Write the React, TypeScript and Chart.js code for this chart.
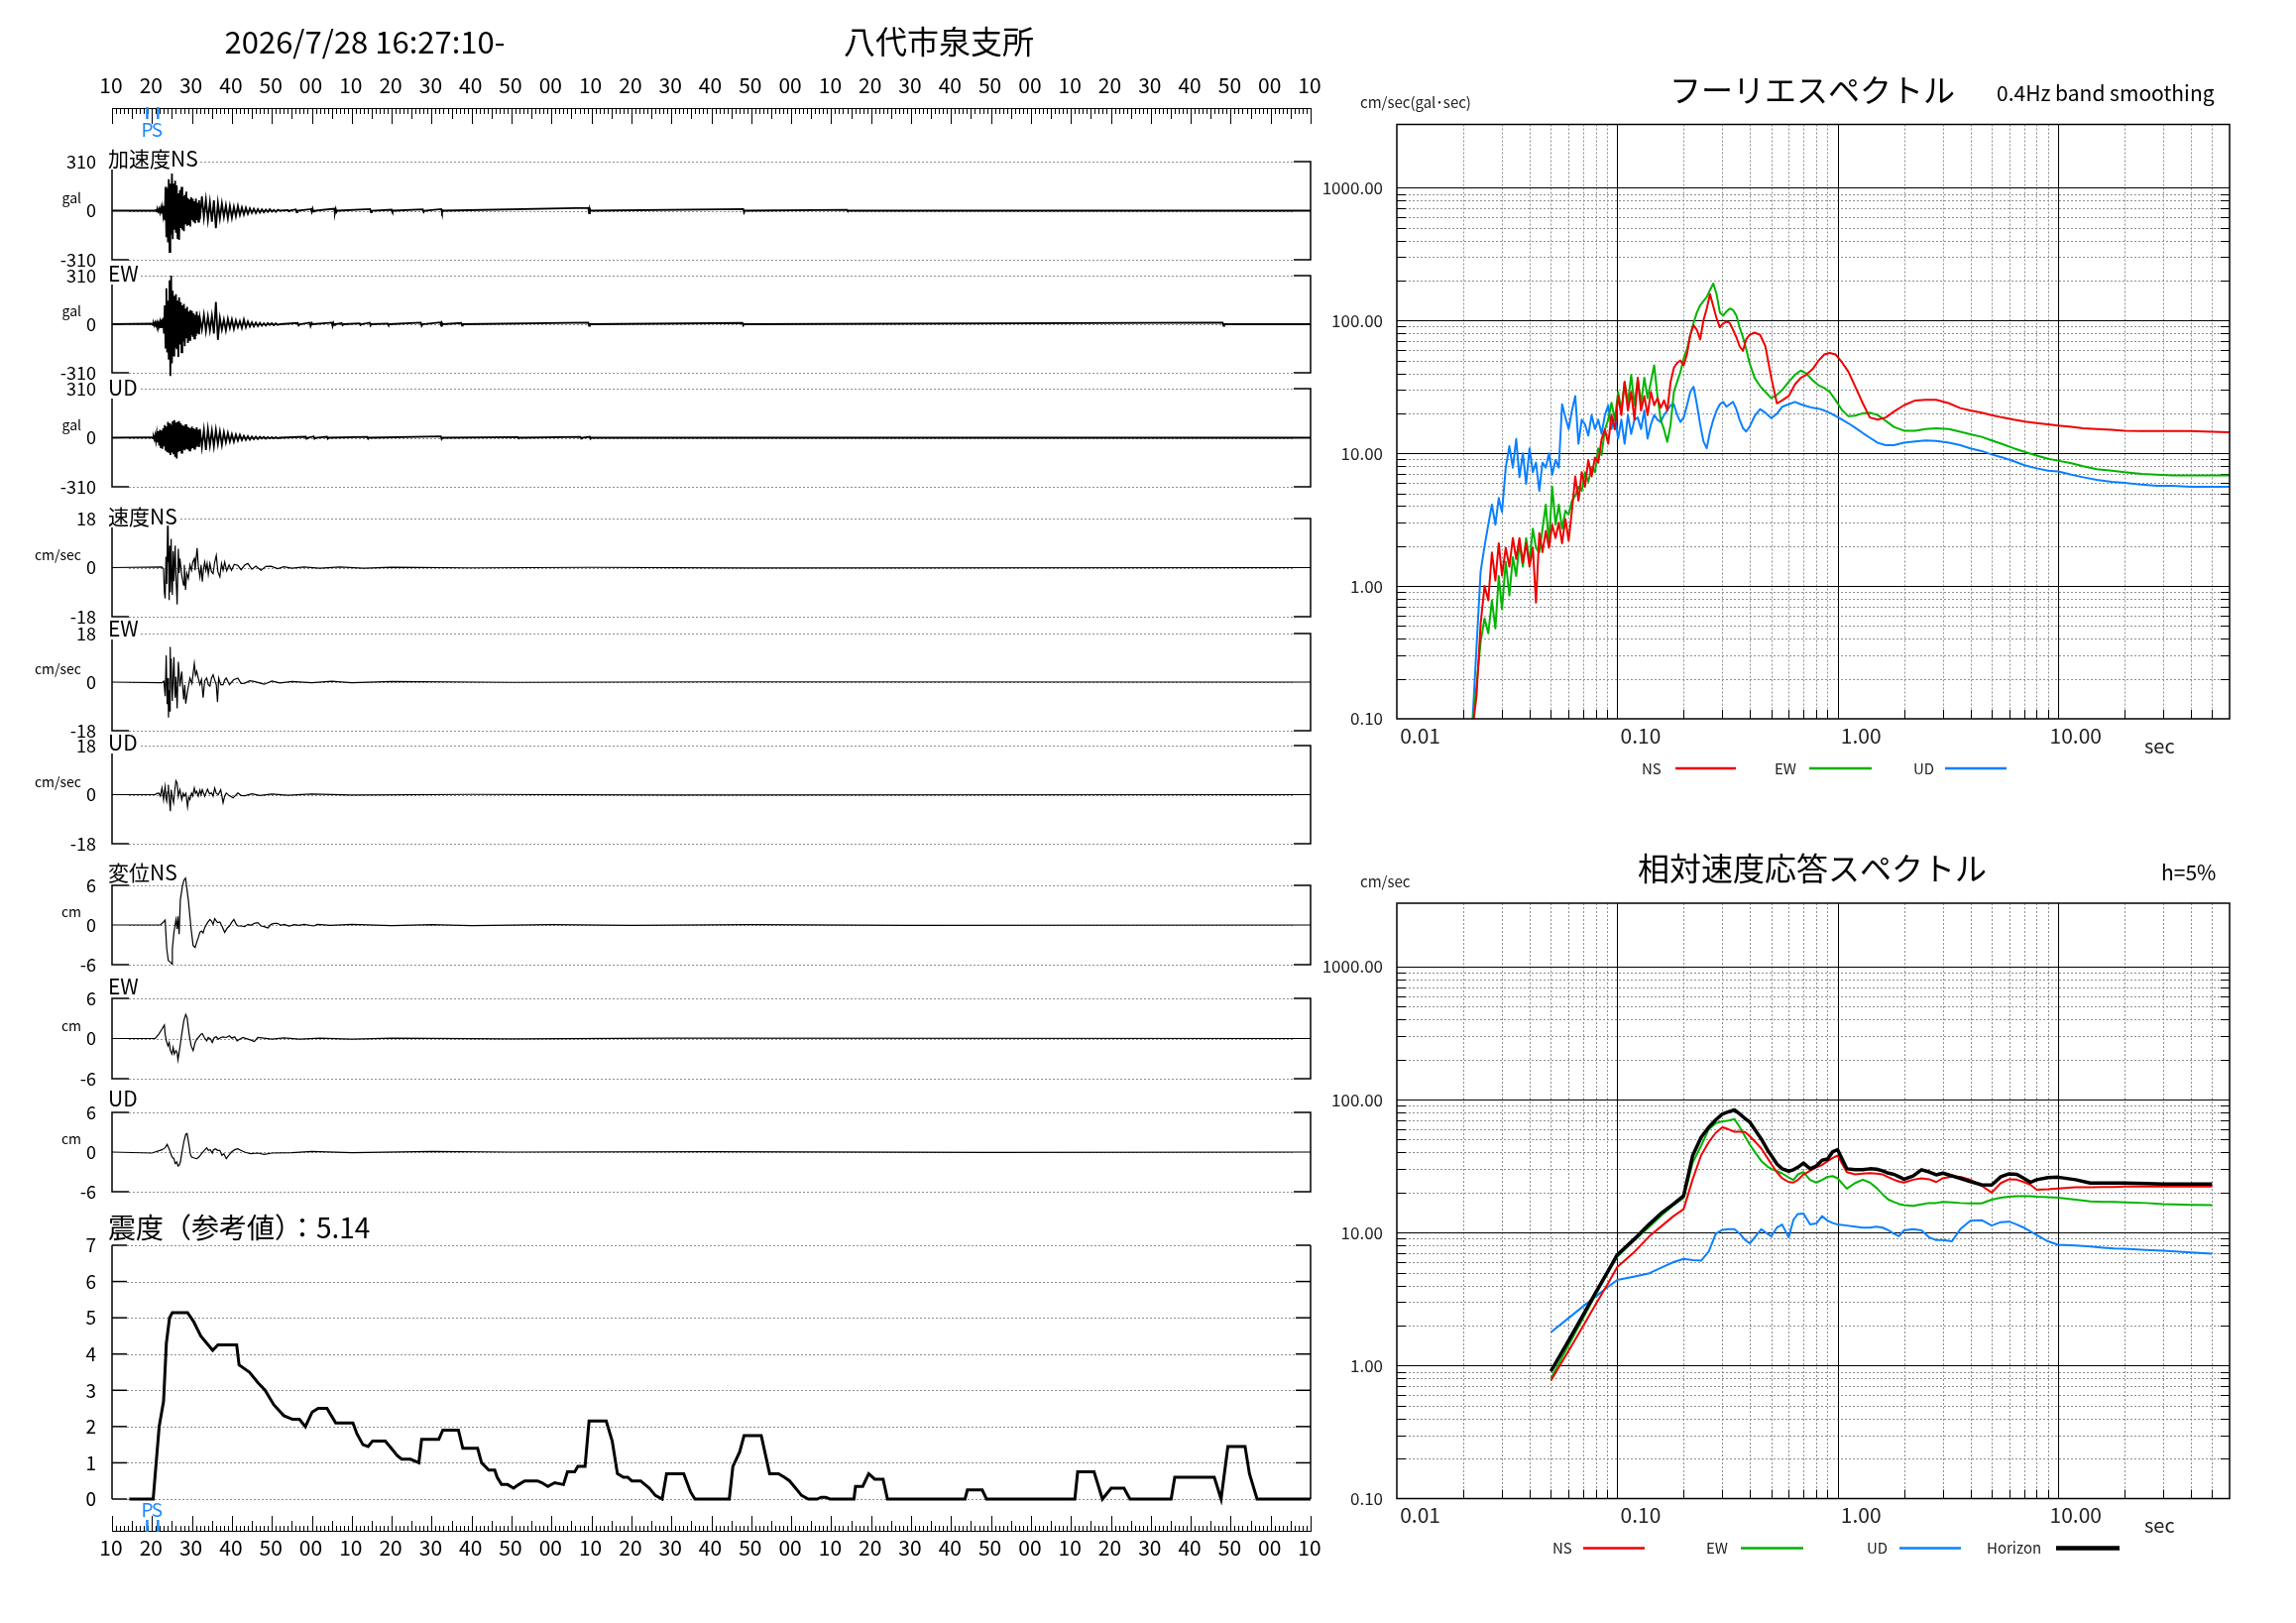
import React, { useEffect, useRef } from "react";
import { Chart, registerables } from "chart.js";

Chart.register(...registerables);

type Pt = [number, number];

const FONT = '"Noto Sans CJK JP", "Noto Sans", sans-serif';
const NS_COLOR = "#f00000";
const EW_COLOR = "#00b400";
const UD_COLOR = "#0a80ff";
const PS_COLOR = "#1e88ff";
const GRID_DOT = "#8e8e8e";

// ================= header / time axis =================
const recordStartLabel = "2026/7/28 16:27:10-";
const stationName = "八代市泉支所";
const timeTickSeconds = [0, 10, 20, 30, 40, 50, 60, 70, 80, 90, 100, 110, 120, 130, 140, 150, 160, 170, 180, 190, 200, 210, 220, 230, 240, 250, 260, 270, 280, 290, 300];
const timeTickLabels = ["10", "20", "30", "40", "50", "00", "10", "20", "30", "40", "50", "00", "10", "20", "30", "40", "50", "00", "10", "20", "30", "40", "50", "00", "10", "20", "30", "40", "50", "00", "10"];
const pWaveSecond = 8.8;
const sWaveSecond = 11.5;

// ================= acceleration (gal) =================
const accRange = 310;
const accBurstStart = 10;
const accBurstStep = 0.2;
const accCodaStart = 22;
const accCodaStep = 0.5;

const accNsBurst = [
  0, 0, 0, 0, 0, 4, -6, 8, -5, 10,
  -12, 15, -18, 20, -25, 30, -60, 150, -167, 140,
  -200, 198, -261, 170, -150, 234, -180, 170, -120, 190,
  -140, 160, -173, 110, -184, 130, -110, 150, -120, 90,
  -130, 100, -80, 120, -95, 80, -90, 70, -100, 85,
  -60, 75, -70, 60, -80, 77, -60, 50, -70, 65,
];
const accNsCoda = [
  -55, 90, -45, 70, -60, 55, -70, 65, -110, 50,
  -50, 46, -40, 35, -50, 30, -45, 25, -35, 30,
  -28, 20, -25, 18, -20, 15, -14, 12, -15, 10,
  -12, 8, -10, 7, -8, 9, -6, 5, -7, 6,
];
const accNsTail: Pt[] = [
  [42, 0], [44, 4], [44.2, -4], [44.4, 0], [46, 8], [46.2, -10], [46.4, 0], [49.8, 10], [50, -8], [50.2, 12], [50.4, -6], [50.6, 0],
  [55.6, 12], [55.8, -14], [56, 10], [56.2, -8], [56.4, 0], [64.6, 10], [64.8, -10], [65, 0], [70, 6], [70.2, -6], [70.4, 0],
  [77.8, 8], [78, -8], [78.2, 0], [82.4, 10], [82.6, -12], [82.8, 0], [119.2, 18], [119.4, -17], [119.6, 12], [119.8, 0],
  [158, 10], [158.2, -12], [158.4, 0], [184, 5], [184.2, -5], [184.4, 0], [300, 0],
];

const accEwBurst = [
  3, -5, 6, -8, 10, -7, 12, -10, 8, -12,
  15, -20, 30, -25, 40, -60, 120, -150, 230, -180,
  150, -226, 280, -330, 310, -250, 213, -200, 180, -150,
  192, -160, 150, -209, 170, -130, 140, -180, 120, -110,
  130, -140, 100, -90, 110, -120, 80, -100, 90, -70,
  85, -80, 70, -90, 60, -75, 80, -60, 55, -65,
];
const accEwCoda = [
  40, -35, 60, -45, 50, -40, 55, -60, 142, -100,
  40, -35, 30, -40, 35, -25, 30, -30, 25, -20,
  20, -25, 30, -20, 18, -15, 12, -14, 10, -12,
  8, -10, 6, -8, 7, -5, 6, -6, 5, -5,
];
const accEwTail: Pt[] = [
  [42, 0], [46.5, 8], [46.7, -8], [47, 0], [49.5, 10], [49.7, -12], [50, 8], [50.2, 0], [55, 10], [55.2, -12], [55.4, 8], [55.6, -6], [55.8, 0],
  [57.5, 6], [57.7, -6], [58, 0], [62, 5], [62.2, -5], [62.4, 0], [64.5, 10], [64.7, -8], [64.9, 0], [69, 4], [69.2, -4], [69.4, 0],
  [77.3, 10], [77.5, -10], [77.7, 0], [82.2, 12], [82.4, -10], [82.6, 8], [82.8, 0], [87.4, 8], [87.6, -8], [87.8, 0],
  [119.2, 10], [119.4, -10], [119.6, 0], [157.8, 8], [158, -8], [158.2, 0], [278, 10], [278.2, -10], [278.4, 0], [300, 0],
];

const accUdBurst = [
  2, -4, 6, -10, 15, -20, 25, -30, 40, -50,
  50, -60, 45, -70, 60, -55, 80, -75, 70, -90,
  100, -95, 90, -110, 80, -94, 105, -100, 111, -120,
  95, -132, 100, -90, 105, -85, 90, -95, 80, -75,
  75, -80, 85, -70, 70, -75, 65, -80, 60, -70,
  70, -65, 60, -70, 55, -60, 65, -55, 50, -60,
];
const accUdCoda = [
  55, -60, 50, -77, 55, -50, 45, -55, 50, -40,
  40, -45, 35, -30, 30, -25, 22, -25, 20, -18,
  18, -15, 12, -14, 10, -12, 8, -9, 7, -8,
  6, -5, 5, -6, 4, -4, 3, -4, 3, -3,
];
const accUdTail: Pt[] = [
  [42, 0], [48.5, 6], [48.7, -6], [49, 0], [50.5, 8], [50.7, -6], [51, 0], [53.8, 6], [54, -6], [54.2, 0],
  [63.9, 6], [64.1, -6], [64.3, 0], [82.3, 8], [82.5, -8], [82.7, 0], [101.6, 4], [101.8, -4], [102, 0],
  [117.2, 5], [117.4, -5], [117.6, 0], [119.6, 6], [119.8, -6], [120, 0], [300, 0],
];

// ================= velocity (cm/sec) =================
const velRange = 18;
const velNs: Pt[] = [
  [0, 0], [12.5, 0.2], [12.9, -0.5], [13.1, -9], [13.3, -11.3], [13.5, 4], [13.7, -6], [13.9, 15.4], [14.0, 2], [14.1, 13.6],
  [14.3, -11.9], [14.45, 8], [14.6, -9], [14.8, 10.5], [14.95, -4], [15.1, -10], [15.3, 6], [15.5, -5], [15.8, 8.1], [16.0, -3],
  [16.3, -13.5], [16.6, 6.9], [16.8, -2], [17.0, 3.3], [17.45, -2.8], [17.9, -6.4], [18.1, 1], [18.4, -8.2], [18.7, -2], [19.1, -4],
  [19.5, 1], [19.9, -1], [20.2, 2], [20.6, 3.3], [20.8, -1], [21.0, 2.5], [21.3, 7.2], [21.6, 0.5], [22.0, -3.4], [22.3, 1],
  [22.6, -5.2], [22.9, -0.5], [23.2, 2], [23.5, -1], [23.8, 1.5], [24.1, -2.5], [24.5, 1.5], [24.9, -1.5], [25.3, -2.2], [25.7, 2],
  [26.1, 4.5], [26.5, -1.5], [27.0, -3.4], [27.4, 1.5], [27.8, -1], [28.2, 2], [28.7, -1.2], [29.3, 1], [29.9, -1], [30.6, 1.2],
  [31.5, 0.8], [32.3, -0.8], [33.2, 0.9], [34, 1.5], [35, -0.6], [36, 0.5], [37.3, -1], [38.5, 0.4], [39.8, 0.5], [41.5, -0.4],
  [43, 0.3], [45, -0.2], [48, 0.2], [52, -0.2], [57, 0.2], [63, -0.2], [70, 0.1], [90, -0.1], [120, 0.1], [160, -0.1], [300, 0],
];
const velEw: Pt[] = [
  [0, 0], [12.5, -0.2], [13.0, 0.3], [13.3, -5.2], [13.56, 9.9], [13.8, -8.2], [13.98, 1.5], [14.14, -13.1], [14.3, -3], [14.4, -10.7],
  [14.56, 13], [14.7, 2], [14.8, 8.7], [14.95, -2], [15.1, -7], [15.3, 3], [15.5, 9.3], [15.65, -1], [15.8, -5.8], [16.0, 2],
  [16.3, -9.7], [16.6, 7.5], [17.0, -1.6], [17.2, 1], [17.45, 3.9], [17.7, -2], [17.95, -6.4], [18.2, -1], [18.45, -8], [18.9, -3.4],
  [19.5, 1.5], [20.0, -0.5], [20.6, 6.9], [20.9, 2.6], [21.2, 4], [21.6, 1.4], [22.0, -0.9], [22.4, 1], [22.8, -5.8], [23.2, 0.5],
  [23.7, 1.5], [24.1, -1], [24.5, -1.5], [24.9, 1.5], [25.3, 2.7], [25.7, 0.8], [26.1, -1], [26.4, -7.3], [26.7, 1.5], [27.2, -1],
  [27.8, -1], [28.2, 0.8], [28.6, 1.5], [29.4, -1], [30.4, 0.8], [31.5, 1.5], [32.3, -0.5], [33.2, -0.4], [34.5, 0.5], [35.6, 0.2],
  [38.1, -0.8], [40, 0.4], [42, -0.3], [45, 0.2], [50, -0.2], [55, 0.3], [60, -0.2], [70, 0.2], [100, -0.1], [150, 0.1], [300, 0],
];
const velUd: Pt[] = [
  [0, 0], [10.8, 0], [11.2, 0.4], [11.7, 0.6], [12.1, -0.5], [12.5, 2.4], [12.9, -1.8], [13.1, 1], [13.3, 3], [13.5, -1.2],
  [13.7, -2.4], [13.9, 1], [14.1, 3.6], [14.35, -2], [14.6, -6.1], [14.8, 1.8], [15.1, -1], [15.4, -3], [15.7, 1.5], [16.0, 5.1],
  [16.3, 4.2], [16.6, -0.6], [16.8, 0.8], [17.0, 1.8], [17.45, -1.8], [17.8, 0.5], [18.1, -0.6], [18.5, 0.5], [18.9, -4.5], [19.2, -1],
  [19.5, -1.8], [19.9, 0.6], [20.2, -0.5], [20.6, 2.4], [20.9, 0.5], [21.2, 1.2], [21.6, -0.5], [22, 1.6], [22.3, 0], [22.6, 1.8],
  [23.2, -0.6], [23.9, 2], [24.4, 0.3], [24.9, 0.6], [25.3, -0.5], [25.7, 2.4], [26.1, 0.5], [26.6, 0], [27.2, 1.8], [27.5, -0.5],
  [27.8, -3], [28.2, -0.5], [28.6, 0.6], [29.4, -0.4], [30.3, -1.2], [31.5, 0.6], [32.3, -0.3], [33.2, -0.4], [35, 0.3], [37, -0.3],
  [40, 0.2], [44, -0.2], [50, 0.2], [60, -0.1], [90, 0.1], [140, -0.1], [300, 0],
];

// ================= displacement (cm) =================
const dispRange = 6;
const dispNs: Pt[] = [
  [0, 0], [12.1, 0], [12.9, 0.45], [13.3, 0.74], [13.5, -1.5], [13.7, -3.6], [14.1, -5.4], [14.6, -5.6], [15.0, -5.9], [15.1, -3.6],
  [15.5, -1.1], [15.8, 0], [16.0, 0.8], [16.3, -0.6], [16.5, 1.3], [16.8, -1.4], [17.1, 3.8], [17.6, 5.8], [18.0, 6.8], [18.4, 7.1],
  [19.1, 3.8], [19.8, -0.6], [20.3, -3.1], [20.8, -3.4], [21.2, -2.6], [21.6, -1.9], [22.0, -1.1], [22.4, -0.9], [22.8, -1.2], [23.2, -0.4],
  [23.9, 0.35], [24.5, 0.85], [24.9, 0.6], [25.3, 0.1], [25.7, 0.95], [26.4, 0.35], [27.0, 0.45], [27.5, -0.15], [28.2, -1.1], [28.9, -0.4],
  [29.4, -0.15], [29.9, 0.35], [30.5, 0.85], [31.1, 0.1], [31.5, -0.15], [32.3, -0.15], [33.2, -0.25], [34.0, 0.1], [34.8, -0.05], [35.6, 0.25],
  [36.5, 0.35], [37.3, -0.15], [38.1, -0.25], [39.0, -0.45], [39.8, 0.1], [40.6, 0.25], [41.4, 0.25], [42.3, -0.05], [43.1, 0.1], [44.3, -0.15],
  [45.6, 0.05], [46.8, -0.05], [48.1, 0.1], [50.5, -0.15], [51.4, 0.1], [54.7, -0.05], [60, 0.1], [70, -0.1], [80, 0.05], [90, -0.1],
  [110, 0.05], [130, -0.05], [160, 0.05], [200, -0.05], [300, 0],
];
const dispEw: Pt[] = [
  [0, 0], [10.8, 0], [11.7, 0.65], [12.5, 1.4], [13.1, 2.0], [13.3, 0.65], [13.6, -0.35], [14.0, -1.1], [14.3, -0.6], [14.6, -1.8],
  [15.0, -2.3], [15.3, -1.35], [15.6, -2.3], [16.0, -1.8], [16.3, -2.1], [16.5, -3.2], [16.8, -2.1], [17.1, -0.85], [17.45, 0.65], [17.95, 2.6],
  [18.45, 3.6], [18.8, 3.1], [19.3, 0.65], [19.8, -1.1], [20.3, -1.8], [20.8, -0.6], [21.2, -0.1], [21.6, 0.15], [22.25, 0.65], [22.6, 0.75],
  [23.1, 0.15], [23.7, -0.35], [24.1, 0.15], [24.7, -0.1], [25.1, -0.6], [25.6, 0.15], [26.1, 0.25], [26.6, -0.1], [27.2, 0.15], [27.8, 0.25],
  [28.6, 0.15], [29.4, 0.4], [30.0, 0.05], [30.7, 0.25], [31.3, -0.35], [31.9, -0.1], [32.75, 0.15], [34.0, -0.1], [34.8, -0.25], [35.6, -0.45],
  [36.5, 0.15], [38, 0.05], [40, -0.1], [43, 0.1], [47, -0.1], [52, 0.05], [60, -0.1], [70, 0.05], [100, -0.05], [140, 0.05], [300, 0],
];
const dispUd: Pt[] = [
  [0, 0], [10, -0.15], [12.5, 0.35], [13.3, 0.65], [13.8, 1.15], [14.1, 0.75], [14.6, 0], [15.0, -0.75], [15.5, -1], [15.8, -1.75],
  [16.2, -1.5], [16.5, -2.1], [16.8, -2.0], [17.1, -1.5], [17.45, -0.25], [17.95, 1.5], [18.45, 2.7], [18.8, 2.8], [19.3, 1.0], [19.6, -0.25],
  [19.9, -0.75], [20.6, -0.9], [21.2, -1], [21.75, -0.75], [22.4, -0.25], [23.1, 0.25], [23.7, 0.65], [24.1, 0.25], [24.6, 0.35], [25.1, -0.15],
  [25.4, 0.35], [25.9, 0.5], [26.4, 0.25], [27, 0.25], [27.5, -0.5], [28.0, -0.25], [28.6, -1], [29.2, -0.5], [29.9, 0], [30.7, 0.35],
  [31.5, 0.5], [32.2, 0.25], [33.2, 0], [34, -0.15], [34.8, -0.25], [36.5, -0.15], [38.1, -0.35], [40, -0.15], [45, -0.1], [50, 0.1],
  [60, -0.1], [80, 0.1], [100, 0], [150, 0.05], [220, -0.05], [300, 0],
];

// ================= seismic intensity =================
const intensityTitle = "震度（参考値）：5.14";
const intensityTicks = [0, 1, 2, 3, 4, 5, 6, 7];
const intensityTrace: Pt[] = [
  [4.3, 0], [10.3, 0], [11.8, 2.0], [12.9, 2.7], [13.6, 4.3], [14.4, 5.0], [15.1, 5.14], [18.9, 5.14], [20.4, 4.9], [22.2, 4.5],
  [23.7, 4.3], [25.2, 4.1], [26.5, 4.25], [31.2, 4.25], [31.8, 3.7], [34.4, 3.5], [36.6, 3.2], [38.3, 3.0], [40.5, 2.6], [43.0, 2.3],
  [45.2, 2.2], [46.9, 2.2], [48.4, 2.0], [50.1, 2.4], [51.6, 2.5], [53.8, 2.5], [54.9, 2.3], [56.0, 2.1], [60.3, 2.1], [61.3, 1.8],
  [62.8, 1.5], [64.1, 1.45], [65.2, 1.6], [68.4, 1.6], [69.9, 1.4], [71.4, 1.2], [72.5, 1.1], [74.7, 1.1], [76.8, 1.0], [77.5, 1.65],
  [81.8, 1.65], [82.8, 1.9], [86.7, 1.9], [87.8, 1.4], [91.5, 1.4], [92.5, 1.0], [94.3, 0.8], [95.8, 0.8], [96.4, 0.6], [97.5, 0.4],
  [99.0, 0.4], [100.5, 0.3], [101.8, 0.4], [103.3, 0.5], [106.5, 0.5], [107.6, 0.45], [109.1, 0.35], [110.8, 0.45], [113.0, 0.4], [114.0, 0.75],
  [115.8, 0.75], [116.6, 0.9], [118.4, 0.9], [119.4, 2.15], [123.7, 2.15], [125.2, 1.6], [126.5, 0.7], [128.0, 0.6], [129.1, 0.6], [130.1, 0.5],
  [132.3, 0.5], [134.5, 0.3], [136.0, 0.1], [137.7, 0], [138.8, 0.7], [143.1, 0.7], [144.8, 0.2], [145.9, 0], [154.5, 0], [155.4, 0.9],
  [157.1, 1.3], [158.2, 1.75], [162.5, 1.75], [163.6, 1.2], [164.6, 0.7], [166.8, 0.7], [168.3, 0.6], [169.6, 0.5], [171.1, 0.3], [172.6, 0.1],
  [174.3, 0], [176.5, 0], [177.5, 0.05], [178.6, 0.05], [179.7, 0], [185.7, 0], [186.1, 0.35], [187.9, 0.35], [189.4, 0.7], [190.9, 0.55],
  [193.0, 0.55], [194.1, 0], [213.5, 0], [214.1, 0.25], [217.8, 0.25], [218.9, 0], [241.0, 0], [241.7, 0.75], [245.8, 0.75], [247.9, 0],
  [250.1, 0.3], [253.3, 0.3], [254.8, 0], [265.1, 0], [266.0, 0.6], [275.9, 0.6], [277.6, 0], [279.3, 1.45], [283.6, 1.45], [284.7, 0.7],
  [286.6, 0], [300, 0],
];

// ================= Fourier spectrum =================
const fourierTitle = "フーリエスペクトル";
const fourierUnit = "cm/sec(gal･sec)";
const fourierNote = "0.4Hz band smoothing";
const fourierPeriods = [
  0.0200, 0.0210, 0.0220, 0.0230, 0.0240, 0.0250, 0.0260, 0.0270, 0.0280, 0.0290,
  0.0300, 0.0312, 0.0324, 0.0336, 0.0348, 0.0360, 0.0373, 0.0386, 0.0400, 0.0414,
  0.0428, 0.0443, 0.0458, 0.0474, 0.0490, 0.0507, 0.0525, 0.0543, 0.0562, 0.0582,
  0.0602, 0.0623, 0.0645, 0.0667, 0.0690, 0.0714, 0.0739, 0.0765, 0.0792, 0.0820,
  0.0849, 0.0879, 0.0910, 0.0942, 0.0975, 0.1009, 0.1044, 0.1080, 0.1118, 0.1157,
  0.1197, 0.1239, 0.1282, 0.1327, 0.1373, 0.1421, 0.1471, 0.1522, 0.1575, 0.1630,
  0.1687, 0.1746, 0.1807, 0.1870, 0.1935, 0.2003, 0.2073, 0.2145, 0.2220, 0.2298,
  0.2378, 0.2461, 0.2547, 0.2636, 0.2728, 0.2823, 0.2922, 0.3024, 0.3130, 0.3239,
  0.3352, 0.3470, 0.3591, 0.3716, 0.3846, 0.3981, 0.42, 0.445, 0.47, 0.50,
  0.53, 0.56, 0.60, 0.64, 0.68, 0.72, 0.77, 0.82, 0.87, 0.92,
  0.98, 1.05, 1.12, 1.20, 1.30, 1.40, 1.52, 1.65, 1.80, 2.00,
  2.25, 2.50, 2.80, 3.20, 3.60, 4.00, 4.50, 5.00, 5.60, 6.30,
  7.10, 8.00, 9.00, 10.0, 11.5, 13.0, 15.0, 17.5, 20.0, 24.0,
  28, 33, 40, 50, 60,
];
const fourierNs = [
  0.03, 0.05, 0.08, 0.15, 0.52, 1.0, 0.78, 1.79, 1.1, 2.1,
  1.2, 1.94, 1.4, 2.3, 1.6, 2.3, 1.5, 2.1, 1.4, 1.94,
  0.75, 2.5, 1.8, 2.6, 1.94, 2.9, 2.3, 3.0, 2.1, 3.2,
  2.2, 3.7, 6.7, 4.4, 7.2, 5.6, 8.9, 6.7, 9.3, 8.5,
  12.8, 15.1, 11.8, 19.4, 15.1, 27, 19.4, 34.5, 21, 29,
  17.9, 37, 21, 27, 19.4, 29, 23, 26, 22, 25,
  21, 34.5, 44, 48, 50, 46, 56, 78, 92, 85,
  72, 100, 123, 158, 128, 104, 89, 95, 98, 96,
  85, 75, 64, 59, 72, 78, 81, 78, 64, 37,
  23.8, 25, 27, 33, 37, 39, 43, 50, 55.5, 57,
  55.5, 48, 41, 32, 23.8, 18.6, 17.9, 18.6, 20.6, 23,
  25, 25.3, 25.3, 23.8, 21.9, 21, 20.2, 19.4, 18.6, 17.9,
  17.3, 16.9, 16.5, 16.2, 15.8, 15.4, 15.2, 15.0, 14.8, 14.7,
  14.7, 14.7, 14.7, 14.5, 14.4,
];
const fourierEw = [
  0.04, 0.06, 0.09, 0.18, 0.38, 0.57, 0.44, 0.78, 0.48, 1.19,
  0.67, 1.52, 0.85, 1.65, 1.19, 2.1, 1.4, 2.3, 1.52, 2.7,
  1.94, 1.79, 2.7, 4.1, 2.1, 5.6, 2.9, 4.1, 2.7, 3.7,
  3.45, 4.4, 4.8, 5.6, 5.2, 7.2, 6.1, 7.9, 7.2, 10.9,
  9.7, 15.1, 17.9, 24, 17.9, 29, 21, 34.5, 24, 39,
  23, 36, 23.8, 37, 26, 34.5, 46, 27, 17.9, 15.1,
  12.2, 16.4, 29, 34.5, 41, 52, 61, 78, 96, 115,
  130, 140, 150, 170, 190, 158, 115, 109, 117, 123,
  120, 109, 89, 75, 61, 48, 37, 32, 29, 26,
  27.5, 30, 34.5, 39, 42, 40, 35.5, 32.5, 31, 29,
  25, 21, 19, 19.2, 20, 20.2, 19.4, 17.6, 15.8, 14.8,
  14.8, 15.2, 15.4, 15.2, 14.5, 13.9, 13.3, 12.5, 11.7, 10.9,
  10.2, 9.6, 9.1, 8.8, 8.4, 8.0, 7.6, 7.4, 7.2, 7.0,
  6.9, 6.8, 6.8, 6.8, 6.8,
];
const fourierUd = [
  0.05, 0.07, 0.09, 0.35, 1.29, 2.0, 2.9, 4.1, 2.9, 4.6,
  3.6, 7.8, 11.3, 7.8, 12.8, 6.6, 10, 5.9, 10.9, 7.2,
  8.5, 5.2, 8.5, 7.8, 10, 6.9, 8.9, 7.8, 23.4, 18.6,
  15.2, 21, 27, 11.8, 17.9, 16.5, 13.6, 19.4, 15.2, 17.9,
  14, 19.4, 23, 15.2, 19.4, 12.9, 17.9, 11.8, 19.4, 14,
  17.9, 18.6, 15.2, 21, 12.9, 16.5, 19.4, 17.9, 17.2, 19.4,
  21, 23, 23.4, 19.4, 17.2, 18.6, 23, 29, 31.7, 23.4,
  16.5, 12.3, 10.9, 14.6, 17.9, 21, 23.4, 24.4, 22.4, 23.4,
  24.4, 21.5, 17.9, 15.5, 14.6, 15.8, 19.1, 21.5, 20.2, 18.4,
  19.8, 22.4, 23.4, 24.4, 23.4, 22.7, 22, 21.7, 21, 20.2,
  19.1, 17.9, 16.8, 15.6, 14.2, 13.1, 12.0, 11.5, 11.5, 12,
  12.3, 12.5, 12.4, 12.0, 11.5, 10.9, 10.4, 9.8, 9.3, 8.7,
  8.1, 7.7, 7.4, 7.3, 6.9, 6.6, 6.3, 6.1, 6.0, 5.8,
  5.7, 5.7, 5.6, 5.6, 5.6,
];

// ================= relative velocity response spectrum (h=5%) =================
const responseTitle = "相対速度応答スペクトル";
const responseUnit = "cm/sec";
const responseNote = "h=5%";
const responsePeriods = [
  0.05, 0.06, 0.07, 0.08, 0.09, 0.10, 0.12, 0.14, 0.16, 0.18,
  0.20, 0.22, 0.24, 0.26, 0.28, 0.30, 0.32, 0.34, 0.36, 0.38,
  0.40, 0.42, 0.45, 0.48, 0.50, 0.53, 0.56, 0.60, 0.63, 0.66,
  0.70, 0.75, 0.80, 0.85, 0.90, 0.95, 1.0, 1.1, 1.2, 1.3,
  1.4, 1.5, 1.6, 1.7, 1.8, 1.9, 2.0, 2.2, 2.4, 2.6,
  2.8, 3.0, 3.3, 3.6, 4.0, 4.5, 5.0, 5.5, 6.0, 6.5,
  7.0, 7.5, 8.0, 9.0, 10, 12, 14, 16, 18, 20,
  25, 30, 40, 50,
];
const responseNs = [
  0.77, 1.28, 1.98, 2.9, 4.04, 5.5, 7.2, 9.4, 11.3, 13.3,
  15, 25.2, 38, 47.9, 56.4, 62, 59.8, 57.4, 57.4, 57,
  52.8, 48.7, 43, 36.5, 32.8, 28.5, 25.6, 24, 23.8, 24.9,
  27.4, 29.2, 31, 32.3, 34.4, 36.5, 38, 28.5, 27.4, 27.8,
  28, 27.8, 27.4, 26.1, 25, 24.2, 23.8, 25, 25.6, 25.2,
  24, 25.6, 26.4, 26.3, 25, 22.5, 20, 23.6, 25.2, 25,
  24, 22.9, 21, 21.2, 21.5, 21.9, 21.9, 22, 22, 22.2,
  22.2, 22.2, 22.2, 22.2,
];
const responseEw = [
  0.80, 1.41, 2.27, 3.43, 4.88, 6.6, 8.8, 11.1, 13.6, 16.1,
  18.2, 33.6, 44.9, 59.8, 66.5, 68.7, 69.7, 71.5, 62, 52.8,
  45.7, 40.6, 34.6, 31.4, 30.2, 29, 27.9, 26, 24.9, 27.4,
  28.5, 24.9, 23.8, 24.9, 26.3, 26.6, 25.6, 21.4, 23.6, 25,
  23.8, 21.7, 19.4, 17.7, 17, 16.4, 16.1, 15.9, 16.3, 16.7,
  16.7, 17, 16.9, 16.7, 16.6, 16.6, 17.7, 18.3, 18.6, 18.8,
  18.8, 18.8, 18.6, 18.5, 18.3, 17.7, 17.2, 17, 17, 16.9,
  16.7, 16.4, 16.2, 16.1,
];
const responseUd = [
  1.78, 2.27, 2.79, 3.31, 3.87, 4.4, 4.68, 4.95, 5.5, 6.0,
  6.34, 6.2, 6.15, 7.2, 9.8, 10.5, 10.6, 10.6, 9.8, 8.8,
  8.3, 9.2, 10.6, 9.8, 9.4, 10.9, 11.5, 9.2, 12.5, 13.8,
  13.9, 11.5, 11.7, 13.3, 12.3, 11.8, 11.5, 11.3, 11.1, 10.9,
  10.9, 11.1, 10.9, 10.4, 9.8, 9.4, 10.4, 10.6, 10.4, 9.2,
  8.8, 8.8, 8.6, 10.6, 12.3, 12.4, 11.3, 12, 12.1, 11.5,
  10.9, 10.2, 9.6, 8.6, 8.1, 8.0, 7.85, 7.7, 7.6, 7.55,
  7.4, 7.3, 7.1, 6.95,
];
const responseHorizon = [
  0.905, 1.53, 2.40, 3.57, 5.0, 6.8, 9.0, 11.6, 14.2, 16.4,
  18.9, 38, 52, 62, 70.5, 78, 81, 83.7, 78, 72,
  67.6, 59.8, 50.7, 42, 38, 32.8, 30.2, 29, 29.7, 31,
  33.3, 30.2, 31.7, 35, 35.8, 40.6, 42, 30.2, 29.7, 29.7,
  30.2, 30, 29.2, 28, 27.4, 26.3, 25.2, 26.7, 29.7, 28.6,
  27.2, 28, 26.7, 25.6, 24.2, 22.9, 22.8, 26.3, 27.7, 27.4,
  25.6, 23.9, 25, 25.9, 26.1, 25, 23.6, 23.6, 23.6, 23.6,
  23.4, 23.2, 23.2, 23.2,
];

// spectrum axes
const specXMin = 0.01;
const specXMax = 60;
const specYMin = 0.1;
const specYMax = 3000;
const specXTickValues = [0.01, 0.1, 1, 10];
const specXTickLabels = ["0.01", "0.10", "1.00", "10.00"];
const specYTickValues = [0.1, 1, 10, 100, 1000];
const specYTickLabels = ["0.10", "1.00", "10.00", "100.00", "1000.00"];
const specXDecades = [0.01, 0.1, 1, 10];
const specYDecades = [0.1, 1, 10, 100];
const specMinorSteps = [2, 3, 4, 5, 6, 7, 8, 9];
const specXAxisTitle = "sec";

// ================= helpers =================
function sampled(t0: number, dt: number, vals: number[]): Pt[] {
  return vals.map((v, i) => [t0 + i * dt, v] as Pt);
}
function toXY(pts: Pt[]) {
  return pts.map(([x, y]) => ({ x, y }));
}
function zip(xs: number[], ys: number[]) {
  return xs.map((x, i) => ({ x, y: ys[i] }));
}
function txt(ctx: any, s: string, x: number, y: number, size: number, align = "left", color = "#000") {
  ctx.font = `${size}px ${FONT}`;
  ctx.textAlign = align;
  ctx.textBaseline = "middle";
  ctx.fillStyle = color;
  ctx.fillText(s, x, y);
}
function seg(ctx: any, x0: number, y0: number, x1: number, y1: number) {
  ctx.beginPath();
  ctx.moveTo(x0, y0);
  ctx.lineTo(x1, y1);
  ctx.stroke();
}

const accNsTrace: Pt[] = [[0, 0], ...sampled(accBurstStart, accBurstStep, accNsBurst), ...sampled(accCodaStart, accCodaStep, accNsCoda), ...accNsTail];
const accEwTrace: Pt[] = [[0, 0], ...sampled(accBurstStart, accBurstStep, accEwBurst), ...sampled(accCodaStart, accCodaStep, accEwCoda), ...accEwTail];
const accUdTrace: Pt[] = [[0, 0], ...sampled(accBurstStart, accBurstStep, accUdBurst), ...sampled(accCodaStart, accCodaStep, accUdCoda), ...accUdTail];

// ================= layout =================
const PAGE_W = 2316;
const PAGE_H = 1637;
const LEFT_W = 1340;
const PLOT_L = 113;
const PLOT_R = 1322;
const PANEL_PAD = 30;

const seismicPanels = [
  { label: "加速度NS", unit: "gal", range: accRange, trace: accNsTrace, top: 163, bottom: 262, labelY: 160, lw: 1.8 },
  { label: "EW", unit: "gal", range: accRange, trace: accEwTrace, top: 278, bottom: 376, labelY: 276, lw: 1.8 },
  { label: "UD", unit: "gal", range: accRange, trace: accUdTrace, top: 392, bottom: 491, labelY: 391, lw: 1.8 },
  { label: "速度NS", unit: "cm/sec", range: velRange, trace: velNs, top: 523, bottom: 622, labelY: 521, lw: 1.2 },
  { label: "EW", unit: "cm/sec", range: velRange, trace: velEw, top: 639, bottom: 737, labelY: 634, lw: 1.2 },
  { label: "UD", unit: "cm/sec", range: velRange, trace: velUd, top: 752, bottom: 851, labelY: 749, lw: 1.2 },
  { label: "変位NS", unit: "cm", range: dispRange, trace: dispNs, top: 893, bottom: 973, labelY: 880, lw: 1.2 },
  { label: "EW", unit: "cm", range: dispRange, trace: dispEw, top: 1007, bottom: 1088, labelY: 995, lw: 1.2 },
  { label: "UD", unit: "cm", range: dispRange, trace: dispUd, top: 1122, bottom: 1202, labelY: 1108, lw: 1.2 },
];

const INT_TOP = 1256;
const INT_BOTTOM = 1512;

const baseOptions = {
  responsive: false,
  animation: false,
  events: [],
  plugins: { legend: { display: false }, tooltip: { enabled: false } },
  elements: { point: { radius: 0 }, line: { tension: 0 } },
};

// ================= seismic panel =================
function seisDecor(p: any) {
  return {
    id: "seisDecor",
    beforeDatasetsDraw(chart: any) {
      const { ctx, chartArea: a, scales } = chart;
      const y = scales.y;
      const yT = y.getPixelForValue(p.range);
      const yB = y.getPixelForValue(-p.range);
      const y0 = y.getPixelForValue(0);
      const TK = 17;
      ctx.save();
      ctx.strokeStyle = GRID_DOT;
      ctx.lineWidth = 1;
      ctx.setLineDash([2, 2]);
      [yT, yB, y0].forEach((yy) => seg(ctx, a.left + TK, Math.round(yy) + 0.5, a.right - TK, Math.round(yy) + 0.5));
      ctx.setLineDash([]);
      ctx.strokeStyle = "#000";
      ctx.lineWidth = 1.5;
      ctx.beginPath();
      ctx.moveTo(a.left + TK, yT);
      ctx.lineTo(a.left, yT);
      ctx.lineTo(a.left, yB);
      ctx.lineTo(a.left + TK, yB);
      ctx.moveTo(a.right - TK, yT);
      ctx.lineTo(a.right, yT);
      ctx.lineTo(a.right, yB);
      ctx.lineTo(a.right - TK, yB);
      ctx.stroke();
      txt(ctx, String(p.range), 97, yT, 18, "right");
      txt(ctx, "0", 97, y0, 18, "right");
      txt(ctx, "-" + p.range, 97, yB, 18, "right");
      txt(ctx, p.unit, 82, y0 - 13, 14, "right");
      const ly = p.labelY - (p.top - PANEL_PAD);
      ctx.font = `21px ${FONT}`;
      const w = ctx.measureText(p.label).width;
      ctx.fillStyle = "#fff";
      ctx.fillRect(108, ly - 11, w + 3, 22);
      txt(ctx, p.label, 109, ly, 21, "left");
      ctx.restore();
    },
  };
}

function seisConfig(p: any) {
  return {
    type: "line",
    data: {
      datasets: [
        {
          data: toXY(p.trace),
          borderColor: "#000",
          borderWidth: p.lw,
          pointRadius: 0,
          tension: 0,
          fill: false,
          clip: 24,
        },
      ],
    },
    options: {
      ...baseOptions,
      layout: { padding: { left: PLOT_L, right: LEFT_W - PLOT_R, top: PANEL_PAD, bottom: PANEL_PAD } },
      scales: {
        x: { type: "linear", min: 0, max: 300, display: false },
        y: { type: "linear", min: -p.range, max: p.range, display: false },
      },
    },
    plugins: [seisDecor(p)],
  };
}

// ================= left frame + intensity =================
const leftDecor = {
  id: "leftDecor",
  beforeDatasetsDraw(chart: any) {
    const { ctx, chartArea: a, scales } = chart;
    const x = scales.x;
    const y = scales.y;
    ctx.save();
    txt(ctx, recordStartLabel, 368, 42, 31, "center");
    txt(ctx, stationName, 947, 42, 32, "center");

    // rulers (top and bottom)
    ctx.strokeStyle = "#000";
    ctx.lineWidth = 1;
    seg(ctx, a.left, 109.5, a.right, 109.5);
    seg(ctx, a.left, 1544.5, a.right, 1544.5);
    for (let s = 0; s <= 300; s++) {
      const px = Math.round(x.getPixelForValue(s)) + 0.5;
      const len = s % 10 === 0 ? 16 : s % 5 === 0 ? 11 : 6;
      seg(ctx, px, 109, px, 109 + len);
      seg(ctx, px, 1545, px, 1545 - len);
    }
    timeTickSeconds.forEach((s, i) => {
      const px = x.getPixelForValue(s);
      txt(ctx, timeTickLabels[i], px - 1, 86, 21, "center");
      txt(ctx, timeTickLabels[i], px - 1, 1561, 21, "center");
    });
    // P / S markers
    ctx.strokeStyle = PS_COLOR;
    ctx.lineWidth = 2.5;
    [pWaveSecond, sWaveSecond].forEach((s) => {
      const px = x.getPixelForValue(s);
      seg(ctx, px, 108, px, 120);
      seg(ctx, px, 1533, px, 1545);
    });
    const pPx = x.getPixelForValue(pWaveSecond);
    const sPx = x.getPixelForValue(sWaveSecond);
    txt(ctx, "P", pPx, 131, 19, "center", PS_COLOR);
    txt(ctx, "S", sPx - 1, 131, 19, "center", PS_COLOR);
    txt(ctx, "P", pPx, 1523, 19, "center", PS_COLOR);
    txt(ctx, "S", sPx - 1, 1523, 19, "center", PS_COLOR);

    // intensity panel
    txt(ctx, intensityTitle, 109, 1238, 28, "left");
    const TK = 15;
    ctx.strokeStyle = GRID_DOT;
    ctx.lineWidth = 1;
    ctx.setLineDash([2, 2]);
    intensityTicks.forEach((v) => {
      const py = Math.round(y.getPixelForValue(v)) + 0.5;
      seg(ctx, a.left + TK, py, a.right - TK, py);
    });
    ctx.setLineDash([]);
    ctx.strokeStyle = "#000";
    ctx.lineWidth = 1.5;
    const yTop = y.getPixelForValue(7);
    const yBot = y.getPixelForValue(0);
    seg(ctx, a.left, yTop, a.left, yBot);
    seg(ctx, a.right, yTop, a.right, yBot);
    intensityTicks.forEach((v) => {
      const py = y.getPixelForValue(v);
      seg(ctx, a.left, py, a.left + TK, py);
      seg(ctx, a.right - TK, py, a.right, py);
      txt(ctx, String(v), 97, py, 19, "right");
    });
    ctx.restore();
  },
};

function intensityConfig() {
  return {
    type: "line",
    data: {
      datasets: [
        {
          data: toXY(intensityTrace),
          borderColor: "#000",
          borderWidth: 3,
          pointRadius: 0,
          tension: 0,
          fill: false,
          clip: 6,
        },
      ],
    },
    options: {
      ...baseOptions,
      layout: { padding: { left: PLOT_L, right: LEFT_W - PLOT_R, top: INT_TOP, bottom: PAGE_H - INT_BOTTOM } },
      scales: {
        x: { type: "linear", min: 0, max: 300, display: false },
        y: { type: "linear", min: 0, max: 7, display: false },
      },
    },
    plugins: [leftDecor],
  };
}

// ================= spectra =================
const seriesNames = ["NS", "EW", "UD", "Horizon"];

function specDecor(spec: any) {
  return {
    id: "specDecor",
    beforeDatasetsDraw(chart: any) {
      const { ctx, chartArea: a, scales } = chart;
      const x = scales.x;
      const y = scales.y;
      ctx.save();
      const minorX: number[] = [];
      specXDecades.forEach((d) => specMinorSteps.forEach((m) => { if (d * m < specXMax - 1e-9) minorX.push(Math.round(x.getPixelForValue(d * m)) + 0.5); }));
      const minorY: number[] = [];
      specYDecades.forEach((d) => specMinorSteps.forEach((m) => minorY.push(Math.round(y.getPixelForValue(d * m)) + 0.5)));
      ctx.strokeStyle = GRID_DOT;
      ctx.lineWidth = 1;
      ctx.setLineDash([2, 2]);
      minorX.forEach((px) => seg(ctx, px, a.top, px, a.bottom));
      minorY.forEach((py) => seg(ctx, a.left, py, a.right, py));
      ctx.setLineDash([]);
      ctx.strokeStyle = "#000";
      ctx.lineWidth = 1;
      minorY.forEach((py) => {
        seg(ctx, a.left, py, a.left + 9, py);
        seg(ctx, a.right - 9, py, a.right, py);
      });
      minorX.forEach((px) => seg(ctx, px, a.bottom - 9, px, a.bottom));
      specXTickValues.forEach((v) => {
        if (v <= specXMin) return;
        const px = Math.round(x.getPixelForValue(v)) + 0.5;
        seg(ctx, px, a.top, px, a.bottom);
      });
      specYTickValues.forEach((v) => {
        if (v <= specYMin) return;
        const py = Math.round(y.getPixelForValue(v)) + 0.5;
        seg(ctx, a.left, py, a.right, py);
      });
      // labels
      specYTickValues.forEach((v, i) => txt(ctx, specYTickLabels[i], a.left - 14, y.getPixelForValue(v), 17, "right", "#222"));
      specXTickValues.forEach((v, i) => txt(ctx, specXTickLabels[i], x.getPixelForValue(v) + 44, a.bottom + 17, 21, "right", "#222"));
      txt(ctx, specXAxisTitle, a.left + 754, a.bottom + 27, 20, "left", "#222");
      txt(ctx, spec.title, a.left + 419, a.top - 35, 32, "center");
      txt(ctx, spec.unit, a.left - 37, a.top - 22, 15, "left", "#222");
      txt(ctx, spec.note, a.left + spec.noteDx, a.top - 31, 21, "left");
      // legend
      spec.legend.forEach((l: any) => {
        const ly = a.bottom + 50;
        txt(ctx, l.name, a.left + l.textDx, ly, 15, "left", "#222");
        ctx.strokeStyle = l.color;
        ctx.lineWidth = l.width;
        seg(ctx, a.left + l.x0, ly, a.left + l.x1, ly);
      });
      ctx.restore();
    },
    afterDatasetsDraw(chart: any) {
      const { ctx, chartArea: a } = chart;
      ctx.save();
      ctx.strokeStyle = "#000";
      ctx.lineWidth = 1.5;
      ctx.strokeRect(a.left, a.top, a.right - a.left, a.bottom - a.top);
      ctx.restore();
    },
  };
}

function specConfig(datasets: any[], spec: any, padTop: number, padBottom: number) {
  return {
    type: "line",
    data: { datasets },
    options: {
      ...baseOptions,
      layout: { padding: { left: 109, right: 67, top: padTop, bottom: padBottom } },
      scales: {
        x: { type: "logarithmic", min: specXMin, max: specXMax, display: false },
        y: { type: "logarithmic", min: specYMin, max: specYMax, display: false },
      },
    },
    plugins: [specDecor(spec)],
  };
}

function line(data: any[], color: string, width: number, order: number) {
  return { data, borderColor: color, borderWidth: width, pointRadius: 0, tension: 0, fill: false, order, borderJoinStyle: "round" };
}

function fourierConfig() {
  const datasets = [
    line(zip(fourierPeriods, fourierNs), NS_COLOR, 2, 0),
    line(zip(fourierPeriods, fourierEw), EW_COLOR, 2, 1),
    line(zip(fourierPeriods, fourierUd), UD_COLOR, 2, 2),
  ];
  const spec = {
    title: fourierTitle,
    unit: fourierUnit,
    note: fourierNote,
    noteDx: 605,
    legend: [
      { name: seriesNames[0], color: NS_COLOR, width: 2.5, textDx: 247, x0: 281, x1: 342 },
      { name: seriesNames[1], color: EW_COLOR, width: 2.5, textDx: 381, x0: 416, x1: 479 },
      { name: seriesNames[2], color: UD_COLOR, width: 2.5, textDx: 521, x0: 553, x1: 615 },
    ],
  };
  return specConfig(datasets, spec, 85.5, 85);
}

function responseConfig() {
  const datasets = [
    line(zip(responsePeriods, responseHorizon), "#000", 3.5, 0),
    line(zip(responsePeriods, responseNs), NS_COLOR, 2, 1),
    line(zip(responsePeriods, responseEw), EW_COLOR, 2, 2),
    line(zip(responsePeriods, responseUd), UD_COLOR, 2, 3),
  ];
  const spec = {
    title: responseTitle,
    unit: responseUnit,
    note: responseNote,
    noteDx: 771,
    legend: [
      { name: seriesNames[0], color: NS_COLOR, width: 2.5, textDx: 157, x0: 188, x1: 250 },
      { name: seriesNames[1], color: EW_COLOR, width: 2.5, textDx: 312, x0: 347, x1: 410 },
      { name: seriesNames[2], color: UD_COLOR, width: 2.5, textDx: 474, x0: 507, x1: 569 },
      { name: seriesNames[3], color: "#000", width: 4.5, textDx: 595, x0: 665, x1: 729 },
    ],
  };
  return specConfig(datasets, spec, 81, 88.5);
}

// ================= components =================
function ChartCanvas({ left, top, width, height, make }: { left: number; top: number; width: number; height: number; make: () => any }) {
  const ref = useRef<HTMLCanvasElement>(null);
  useEffect(() => {
    const chart = new Chart(ref.current as HTMLCanvasElement, make() as any);
    return () => chart.destroy();
  }, []);
  return (
    <canvas
      ref={ref}
      width={width}
      height={height}
      style={{ position: "absolute", left, top, width, height }}
    />
  );
}

export default function App() {
  useEffect(() => {
    document.body.style.margin = "0";
  }, []);
  return (
    <div
      style={{
        position: "absolute",
        left: 0,
        top: 0,
        width: PAGE_W,
        height: PAGE_H,
        background: "#fff",
        overflow: "hidden",
      }}
    >
      <ChartCanvas left={0} top={0} width={LEFT_W} height={PAGE_H} make={intensityConfig} />
      {seismicPanels.map((p, i) => (
        <ChartCanvas
          key={i}
          left={0}
          top={p.top - PANEL_PAD}
          width={LEFT_W}
          height={p.bottom - p.top + 2 * PANEL_PAD}
          make={() => seisConfig(p)}
        />
      ))}
      <ChartCanvas left={1300} top={40} width={1016} height={770} make={fourierConfig} />
      <ChartCanvas left={1300} top={830} width={1016} height={770} make={responseConfig} />
    </div>
  );
}
